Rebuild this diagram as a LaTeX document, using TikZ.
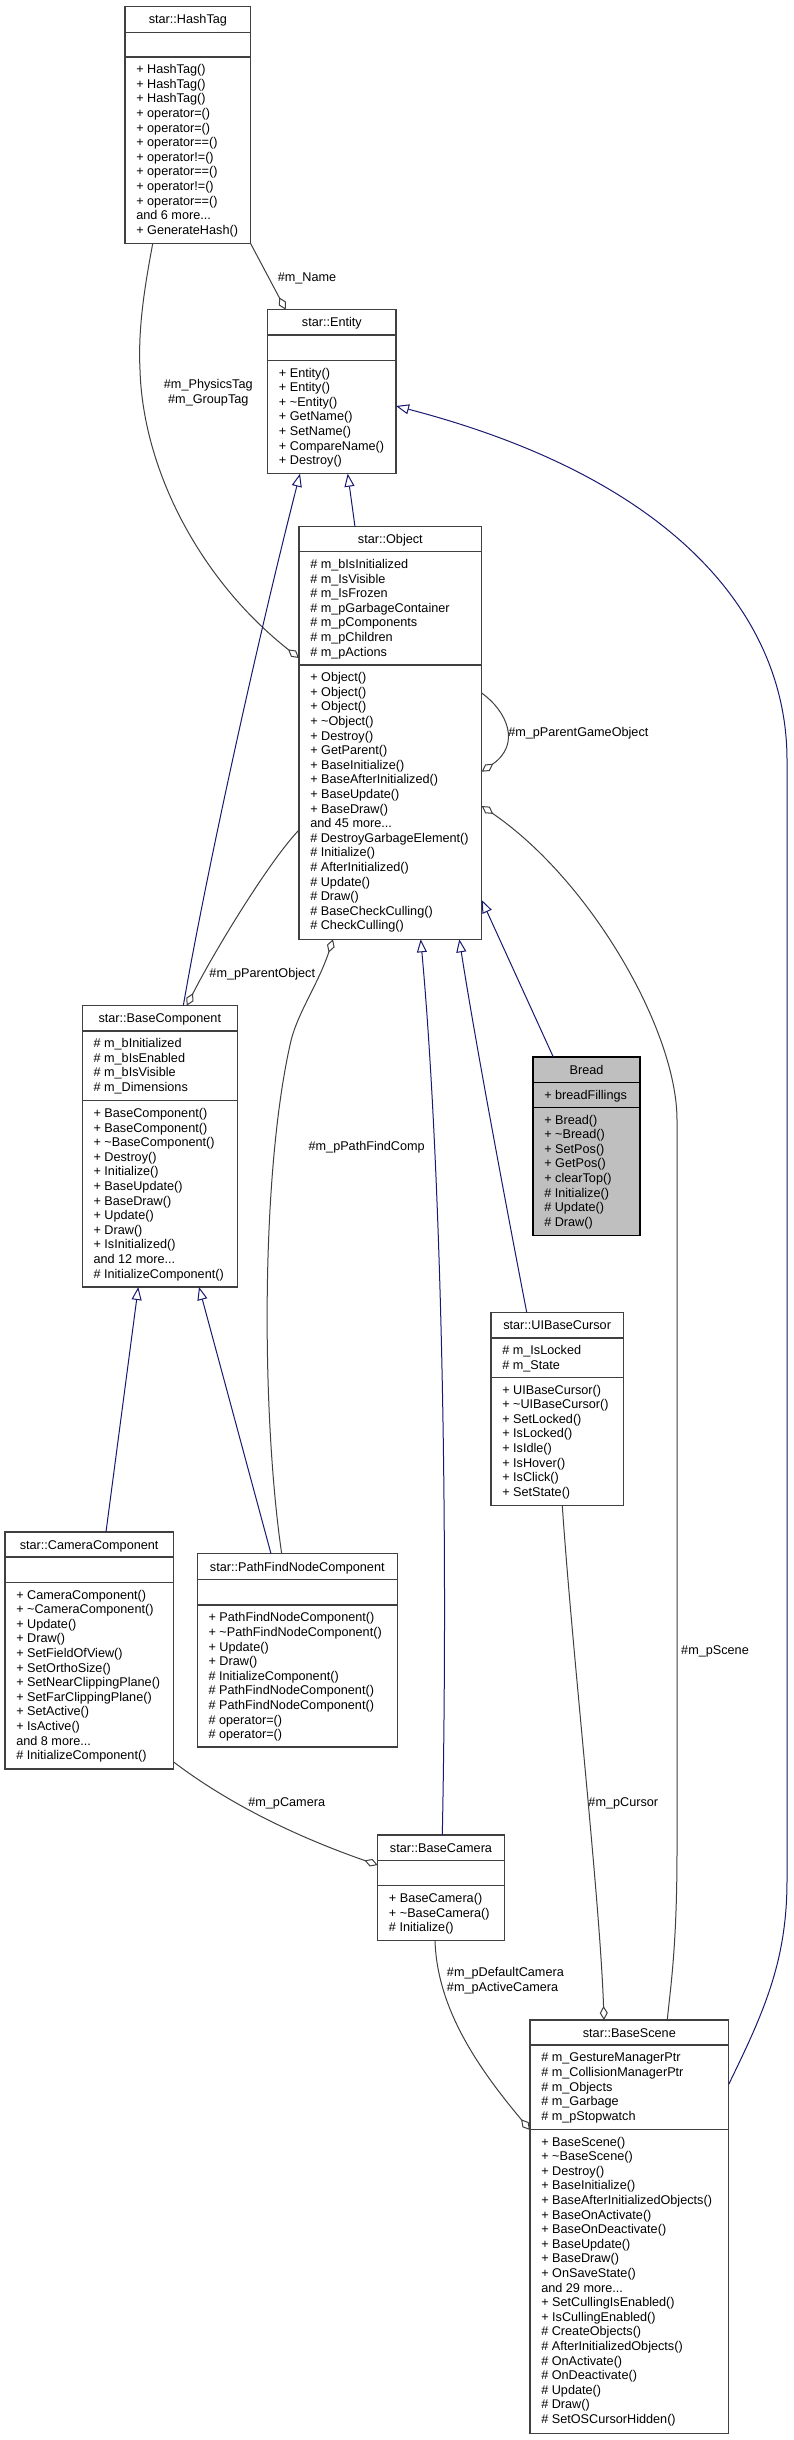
\documentclass[tikz,border=0pt]{standalone}
\usepackage{fontspec}
\setmainfont{Liberation Sans}
\usetikzlibrary{arrows.meta,calc,fit}
\definecolor{edgegray}{HTML}{404040}
\definecolor{inhblue}{HTML}{191970}
\definecolor{boxgray}{HTML}{404040}
\definecolor{focusfill}{HTML}{BFBFBF}
\newcommand\diafont{\fontsize{9.5}{10.95}\selectfont}
% id, style, x1, y1, x2, y2, d1, d2
\newcommand\classframe[8]{%
  \coordinate (#1-nw) at (#3,#4);
  \coordinate (#1-se) at (#5,#6);
  \node[box,#2,fit=(#1-nw)(#1-se)] (#1) {};
  \draw[boxline,#2] ($(#1.north west)+(0,#7-#4)$) -- ($(#1.north east)+(0,#7-#4)$);
  \draw[boxline,#2] ($(#1.north west)+(0,#8-#4)$) -- ($(#1.north east)+(0,#8-#4)$);
  \xdef\cxa{#3}\xdef\cya{#4}\xdef\cxb{#5}\xdef\cda{#7}\xdef\cdb{#8}}
% id, title, attrs, methods
\newcommand\classtext[4]{%
  \node[ttl] (#1-t) at ({(\cxa+\cxb)/2},{(\cya+\cda)/2+4.5}) {#2};
  \node[mem] (#1-a) at ({\cxa+11},{\cda+6.3}) {#3};
  \node[mem] (#1-m) at ({\cxa+11},{\cdb+6.3}) {#4};}
\begin{document}
\begin{tikzpicture}[x=0.75pt,y=-0.75pt,
  box/.style={draw=boxgray, line width=0.8pt, fill=white, inner sep=0pt, outer sep=0pt},
  focus/.style={draw=black, fill=focusfill},
  boxline/.style={draw=boxgray, line width=0.8pt},
  ttl/.style={anchor=base, inner sep=0pt, font=\diafont},
  mem/.style={anchor=north west, inner sep=0pt, align=left, font=\diafont},
  lbl/.style={inner sep=0pt, font=\diafont},
  inh/.style={draw=inhblue, line width=0.75pt, -{Triangle[open, length=9.75pt, width=7.5pt]}},
  agg/.style={draw=edgegray, line width=0.75pt, -{Diamond[open, length=10.5pt, width=6pt]}},
]
\path[fill=white, use as bounding box] (0,0) rectangle (793,2440);

% ---------------- classes ----------------
\classframe{hashtag}{}{125}{6.3}{250.7}{243.7}{32.3}{57}
\classtext{hashtag}{star::HashTag}{}{\strut + HashTag()\\+ HashTag()\\+ HashTag()\\+ operator=()\\+ operator=()\\+ operator==()\\+ operator!=()\\+ operator==()\\+ operator!=()\\+ operator==()\\and 6 more...\\+ GenerateHash()}

\classframe{entity}{}{267.7}{309.7}{396}{473.7}{335}{360.3}
\classtext{entity}{star::Entity}{}{\strut + Entity()\\+ Entity()\\+ \textasciitilde Entity()\\+ GetName()\\+ SetName()\\+ CompareName()\\+ Destroy()}

\classframe{object}{}{299}{526.7}{481.7}{939.3}{551.7}{665}
\classtext{object}{star::Object}{\strut\# m\_bIsInitialized\\\# m\_IsVisible\\\# m\_IsFrozen\\\# m\_pGarbageContainer\\\# m\_pComponents\\\# m\_pChildren\\\# m\_pActions}{\strut + Object()\\+ Object()\\+ Object()\\+ \textasciitilde Object()\\+ Destroy()\\+ GetParent()\\+ BaseInitialize()\\+ BaseAfterInitialized()\\+ BaseUpdate()\\+ BaseDraw()\\and 45 more...\\\# DestroyGarbageElement()\\\# Initialize()\\\# AfterInitialized()\\\# Update()\\\# Draw()\\\# BaseCheckCulling()\\\# CheckCulling()}

\classframe{bread}{focus}{533}{1057}{640}{1235.7}{1082.3}{1107.3}
\classtext{bread}{Bread}{\strut + breadFillings}{\strut + Bread()\\+ \textasciitilde Bread()\\+ SetPos()\\+ GetPos()\\+ clearTop()\\\# Initialize()\\\# Update()\\\# Draw()}

\classframe{basecomponent}{}{82.3}{1005.7}{237.3}{1287}{1031}{1100.7}
\classtext{basecomponent}{star::BaseComponent}{\strut\# m\_bInitialized\\\# m\_bIsEnabled\\\# m\_bIsVisible\\\# m\_Dimensions}{\strut + BaseComponent()\\+ BaseComponent()\\+ \textasciitilde BaseComponent()\\+ Destroy()\\+ Initialize()\\+ BaseUpdate()\\+ BaseDraw()\\+ Update()\\+ Draw()\\+ IsInitialized()\\and 12 more...\\\# InitializeComponent()}

\classframe{uibasecursor}{}{491}{1312.3}{623.3}{1505.7}{1338}{1377.3}
\classtext{uibasecursor}{star::UIBaseCursor}{\strut\# m\_IsLocked\\\# m\_State}{\strut + UIBaseCursor()\\+ \textasciitilde UIBaseCursor()\\+ SetLocked()\\+ IsLocked()\\+ IsIdle()\\+ IsHover()\\+ IsClick()\\+ SetState()}

\classframe{cameracomponent}{}{5}{1532}{173.3}{1769}{1557}{1582.3}
\classtext{cameracomponent}{star::CameraComponent}{}{\strut + CameraComponent()\\+ \textasciitilde CameraComponent()\\+ Update()\\+ Draw()\\+ SetFieldOfView()\\+ SetOrthoSize()\\+ SetNearClippingPlane()\\+ SetFarClippingPlane()\\+ SetActive()\\+ IsActive()\\and 8 more...\\\# InitializeComponent()}

\classframe{pfnc}{}{197.3}{1553.7}{397.3}{1747}{1579.3}{1605}
\classtext{pfnc}{star::PathFindNodeComponent}{}{\strut + PathFindNodeComponent()\\+ \textasciitilde PathFindNodeComponent()\\+ Update()\\+ Draw()\\\# InitializeComponent()\\\# PathFindNodeComponent()\\\# PathFindNodeComponent()\\\# operator=()\\\# operator=()}

\classframe{basecamera}{}{377.7}{1835}{504.3}{1940.3}{1860.7}{1885.7}
\classtext{basecamera}{star::BaseCamera}{}{\strut + BaseCamera()\\+ \textasciitilde BaseCamera()\\\# Initialize()}

\classframe{basescene}{}{530}{2020}{728.7}{2433.3}{2045}{2129.3}
\classtext{basescene}{star::BaseScene}{\strut\# m\_GestureManagerPtr\\\# m\_CollisionManagerPtr\\\# m\_Objects\\\# m\_Garbage\\\# m\_pStopwatch}{\strut + BaseScene()\\+ \textasciitilde BaseScene()\\+ Destroy()\\+ BaseInitialize()\\+ BaseAfterInitializedObjects()\\+ BaseOnActivate()\\+ BaseOnDeactivate()\\+ BaseUpdate()\\+ BaseDraw()\\+ OnSaveState()\\and 29 more...\\+ SetCullingIsEnabled()\\+ IsCullingEnabled()\\\# CreateObjects()\\\# AfterInitializedObjects()\\\# OnActivate()\\\# OnDeactivate()\\\# Update()\\\# Draw()\\\# SetOSCursorHidden()}

% ---------------- connectors ----------------
\draw[agg] (hashtag.south east) -- ($(entity.north west)+(18,0)$);
\draw[agg] ($(hashtag.south west)+(27.7,0)$) .. controls (144,290) and (138,330) .. (140,370) .. controls (143,470) and (200,580) .. ($(object.north west)+(0,131.3)$);
\draw[inh] ($(object.north west)+(56,0)$) -- ($(entity.south west)+(80,0)$);
\draw[inh] ($(basecomponent.north west)+(101,0)$) .. controls (205,880) and (255,650) .. ($(entity.south west)+(32.3,0)$);
\draw[inh] ($(basescene.north east)+(0,64.3)$) .. controls (765,2010) and (787,1960) .. (787,1880) -- (787,760) .. controls (787,620) and (680,480) .. ($(entity.north east)+(0,96.3)$);
\draw[agg] ($(object.north east)+(0,166.3)$) .. controls (506.7,711) and (521.7,744) .. ($(object.north east)+(0,245)$);
\draw[agg] ($(object.north west)+(0,303.3)$) .. controls (270,860) and (215,950) .. ($(basecomponent.north west)+(104.4,0)$);
\draw[agg] ($(pfnc.north west)+(84.4,0)$) .. controls (262,1420) and (260,1180) .. (290,1045) .. controls (296,1015) and (318,985) .. ($(object.south west)+(34,0)$);
\draw[inh] ($(bread.north west)+(20.3,0)$) -- ($(object.north east)+(0,373.3)$);
\draw[inh] ($(uibasecursor.north west)+(35.7,0)$) .. controls (505,1200) and (475,1040) .. ($(object.south west)+(160.3,0)$);
\draw[inh] ($(basecamera.north west)+(64.6,0)$) .. controls (449,1500) and (440,1150) .. ($(object.south west)+(121.7,0)$);
\draw[agg] ($(basescene.north west)+(137.3,0)$) .. controls (670,1990) and (677,1950) .. (677,1850) -- (677,1120) .. controls (677,1030) and (590,880) .. ($(object.north east)+(0,279.3)$);
\draw[agg] ($(uibasecursor.south west)+(71.3,0)$) .. controls (572,1650) and (600,1900) .. ($(basescene.north west)+(74,0)$);
\draw[agg] ($(cameracomponent.south east)+(0,-7.3)$) .. controls (230,1805) and (300,1838) .. ($(basecamera.north west)+(0,30)$);
\draw[agg] ($(basecamera.south west)+(57.3,0)$) .. controls (437,2010) and (480,2070) .. ($(basescene.north west)+(0,110)$);
\draw[inh] ($(cameracomponent.north west)+(101,0)$) -- ($(basecomponent.south west)+(56,0)$);
\draw[inh] ($(pfnc.north west)+(73.7,0)$) -- ($(basecomponent.south west)+(116.7,0)$);

% ---------------- labels ----------------
\node[lbl, anchor=base] (l-name) at (307,281.5) {\#m\_Name};
\node[lbl, anchor=north, align=center] (l-phys) at (208.3,378) {\strut\#m\_PhysicsTag\\\#m\_GroupTag};
\node[lbl, anchor=base west] (l-pgo) at (508,736.8) {\#m\_pParentGameObject};
\node[lbl, anchor=base] (l-ppo) at (262.3,977.2) {\#m\_pParentObject};
\node[lbl, anchor=base] (l-pfc) at (366.7,1150.2) {\#m\_pPathFindComp};
\node[lbl, anchor=base] (l-scene) at (715,1654.5) {\#m\_pScene};
\node[lbl, anchor=base] (l-cursor) at (623.3,1806.2) {\#m\_pCursor};
\node[lbl, anchor=base] (l-cam) at (286.7,1806.2) {\#m\_pCamera};
\node[lbl, anchor=north west, align=left] (l-dcam) at (446.7,1966) {\strut\#m\_pDefaultCamera\\\#m\_pActiveCamera};
\end{tikzpicture}
\end{document}
